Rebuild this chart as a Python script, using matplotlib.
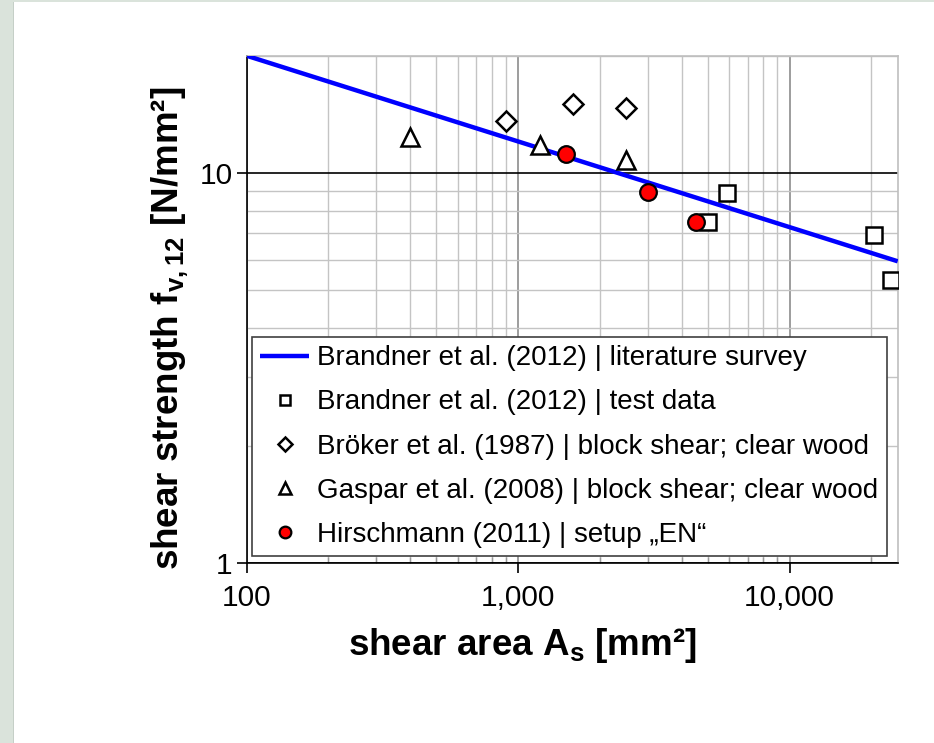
import numpy as np
import matplotlib
matplotlib.use("Agg")
import matplotlib.pyplot as plt
from matplotlib.ticker import LogLocator, FuncFormatter, NullFormatter
from matplotlib.patches import Rectangle

plt.rcParams['font.family'] = ['Liberation Sans', 'DejaVu Sans']
plt.rcParams['mathtext.fontset'] = 'custom'
plt.rcParams['mathtext.rm'] = 'Liberation Sans'
plt.rcParams['mathtext.bf'] = 'Liberation Sans:bold'

# power law fit from the literature survey (end points of the line)
fit_area = [100, 25000]
fit_strength = [20.0, 5.94]

# Brandner et al. (2012) test data
brandner_area = [5020, 5900, 20400, 23600]
brandner_fv = [7.50, 8.88, 6.93, 5.32]

# Bröker et al. (1987)
broeker_area = [905, 1600, 2500]
broeker_fv = [13.6, 15.0, 14.7]

# Gaspar et al. (2008)
gaspar_area = [400, 1200, 2500]
gaspar_fv = [12.4, 11.8, 10.8]

# Hirschmann (2011)
hirsch_area = [1500, 3000, 4520]
hirsch_fv = [11.2, 8.92, 7.50]

labels = ['Brandner et al. (2012) | literature survey',
          'Brandner et al. (2012) | test data',
          'Bröker et al. (1987) | block shear; clear wood',
          'Gaspar et al. (2008) | block shear; clear wood',
          'Hirschmann (2011) | setup \u201eEN\u201c']

fig = plt.figure(figsize=(9.34, 7.43), dpi=100)
fig.patch.set_facecolor('white')
# light frame strips on the left and top
fig.patches.append(Rectangle((0, 0), 13 / 934, 1, transform=fig.transFigure,
                             facecolor='#dae3db', edgecolor='none', zorder=0))
fig.patches.append(Rectangle((0, 1 - 2 / 743), 1, 2 / 743, transform=fig.transFigure,
                             facecolor='#dae3db', edgecolor='none', zorder=0))
fig.patches.append(Rectangle((13 / 934, 0), 1.2 / 934, 1 - 2 / 743, transform=fig.transFigure,
                             facecolor='#c5cfc7', edgecolor='none', zorder=0))

ax = fig.add_axes([246.5 / 934, 1 - 563 / 743, 651.2 / 934, 507.3 / 743])
ax.set_xscale('log')
ax.set_yscale('log')
ax.set_xlim(100, 25000)
ax.set_ylim(1, 20)

ax.plot(fit_area, fit_strength, color='#0000ff', lw=3.2, label=labels[0], zorder=3,
        solid_capstyle='butt')
mew = 1.8
ax.plot(brandner_area, brandner_fv, ls='none', marker='s', ms=11, mfc='white', mec='black',
        mew=mew, label=labels[1], zorder=4)
ax.plot(broeker_area, broeker_fv, ls='none', marker='D', ms=10, mfc='white', mec='black',
        mew=mew, label=labels[2], zorder=4)
ax.plot(gaspar_area, gaspar_fv, ls='none', marker='^', ms=13, mfc='white', mec='black',
        mew=mew, label=labels[3], zorder=4)
ax.plot(hirsch_area, hirsch_fv, ls='none', marker='o', ms=12, mfc='#ff0000', mec='black',
        mew=1.6, label=labels[4], zorder=5)

# ticks
ax.xaxis.set_major_locator(LogLocator(base=10, numticks=10))
ax.xaxis.set_minor_locator(LogLocator(base=10, subs=np.arange(2, 10), numticks=20))
ax.xaxis.set_major_formatter(FuncFormatter(lambda v, p: f'{v:,.0f}'))
ax.xaxis.set_minor_formatter(NullFormatter())
ax.yaxis.set_major_locator(LogLocator(base=10, numticks=10))
ax.yaxis.set_minor_locator(LogLocator(base=10, subs=np.arange(2, 10), numticks=20))
ax.yaxis.set_major_formatter(FuncFormatter(lambda v, p: f'{v:,.0f}'))
ax.yaxis.set_minor_formatter(NullFormatter())

ax.tick_params(axis='both', which='major', direction='out', length=7, width=1.2,
               color='black', labelsize=21.5)
ax.tick_params(axis='x', which='major', pad=8)
ax.tick_params(axis='y', which='major', pad=3)
ax.tick_params(axis='x', which='minor', direction='in', length=4, width=1, color='#999999')
ax.tick_params(axis='y', which='minor', length=0)

# grid
ax.grid(which='minor', color='#c4c4c4', lw=1.0)
ax.grid(which='major', axis='x', color='#8c8c8c', lw=1.2)
ax.grid(which='major', axis='y', color='black', lw=1.2)
ax.set_axisbelow(True)

for side in ['top', 'right']:
    ax.spines[side].set_color('#bfbfbf')
    ax.spines[side].set_linewidth(1.2)
for side in ['left', 'bottom']:
    ax.spines[side].set_color('black')
    ax.spines[side].set_linewidth(1.2)

ax.set_xlabel(r'shear area A$_\mathbf{s}$ [mm²]', fontsize=26.5, fontweight='bold')
ax.set_ylabel(r'shear strength f$_\mathbf{v,12}$ [N/mm²]', fontsize=26.5, fontweight='bold')
ax.xaxis.label.set_va('center')
ax.yaxis.label.set_va('center')
ax.xaxis.set_label_coords(0.424, -0.162)
ax.yaxis.set_label_coords(-0.1175, 0.463)

leg = ax.legend(loc='lower left', bbox_to_anchor=(0.0085, 0.0138), borderaxespad=0,
                fontsize=20, frameon=True, fancybox=False, framealpha=1,
                edgecolor='#404040', handlelength=1.75, handletextpad=0.3,
                labelspacing=0.65, borderpad=0.3, markerscale=0.7)
leg.get_frame().set_linewidth(1.2)
leg.set_zorder(6)

fig.savefig('out.png', dpi=100)
